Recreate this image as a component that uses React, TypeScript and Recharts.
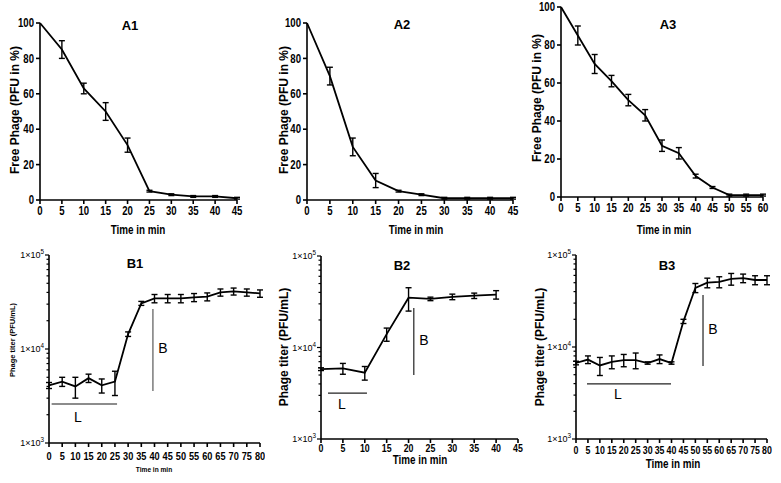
import type { ReactNode } from "react";
import { LineChart, Line, XAxis, YAxis, ErrorBar, ReferenceLine } from "recharts";

const SANS = "'Liberation Sans', Arial, sans-serif";
const SQUEEZE = 0.8; // no narrow font installed, so tick labels get squeezed horizontally

// A panels: free phage (%) over time
const a1Time = [0, 5, 10, 15, 20, 25, 30, 35, 40, 45];
const a1Free = [100, 85, 63, 50, 31, 5, 3, 2, 2, 1];
const a1Err = [0, 5, 3, 5, 4, 0.5, 0.5, 0.5, 0.5, 0.5];

const a2Time = [0, 5, 10, 15, 20, 25, 30, 35, 40, 45];
const a2Free = [100, 70, 30, 11, 5, 3, 1, 1, 1, 1];
const a2Err = [0, 5, 5, 4, 0.5, 0.5, 0.5, 0.5, 0.5, 0.5];

const a3Time = [0, 5, 10, 15, 20, 25, 30, 35, 40, 45, 50, 55, 60];
const a3Free = [100, 85, 70, 61, 51, 43, 27, 23, 11, 5, 1, 1, 1];
const a3Err = [0, 5, 5, 3, 3, 3, 3, 3, 1, 0.5, 0.5, 0.5, 0.5];

// B panels: phage titer (PFU/mL), log scale
const b1Time = [0, 5, 10, 15, 20, 25, 30, 35, 40, 45, 50, 55, 60, 65, 70, 75, 80];
const b1Titer = [4100, 4500, 4000, 4900, 4100, 4500, 14400, 30600, 34500, 34500, 34500, 35400, 36000, 40000, 41000, 40000, 39000];
const b1Err = [300, 500, 1000, 500, 700, 1300, 800, 1500, 3500, 3500, 3500, 3500, 3500, 3500, 3500, 3500, 3500];

const b2Time = [0, 5, 10, 15, 20, 25, 30, 35, 40];
const b2Titer = [5800, 5900, 5300, 14000, 35000, 34000, 35800, 36800, 37800];
const b2Err = [200, 800, 900, 2300, 10000, 1500, 2500, 2500, 4000];

const b3Time = [0, 5, 10, 15, 20, 25, 30, 35, 40, 45, 50, 55, 60, 65, 70, 75, 80];
const b3Titer = [6700, 7300, 6300, 6900, 7200, 7200, 6700, 7400, 6700, 19000, 44000, 50000, 51000, 55000, 56000, 53500, 53500];
const b3Err = [300, 700, 1400, 1100, 1100, 1400, 200, 800, 200, 1000, 5000, 6000, 7000, 8000, 6000, 6000, 6000];

const ticks45 = [0, 5, 10, 15, 20, 25, 30, 35, 40, 45];
const ticks60 = [0, 5, 10, 15, 20, 25, 30, 35, 40, 45, 50, 55, 60];
const ticks80 = [0, 5, 10, 15, 20, 25, 30, 35, 40, 45, 50, 55, 60, 65, 70, 75, 80];
const pctTicks = [0, 20, 40, 60, 80, 100];
const titerTicks = [
  1000, 2000, 3000, 4000, 5000, 6000, 7000, 8000, 9000,
  10000, 20000, 30000, 40000, 50000, 60000, 70000, 80000, 90000, 100000,
];

// latent (L) and burst (B) markers
const b1L = [{ x: 1, y: 2600 }, { x: 25.8, y: 2600 }];
const b1B = [{ x: 39.4, y: 3570 }, { x: 39.4, y: 26700 }];
const b2L = [{ x: 1.6, y: 3180 }, { x: 10.5, y: 3180 }];
const b2B = [{ x: 21.2, y: 5000 }, { x: 21.2, y: 27000 }];
const b3L = [{ x: 4.6, y: 3980 }, { x: 39.8, y: 3980 }];
const b3B = [{ x: 53.2, y: 6200 }, { x: 53.2, y: 36700 }];

type Row = { t: number; v: number; e: number };

function rows(t: number[], v: number[], e: number[]): Row[] {
  return t.map((x, i) => ({ t: x, v: v[i], e: e[i] }));
}

function XTick(props: any) {
  const { x, y, payload, fs } = props;
  return (
    <text
      transform={`translate(${x},${y}) scale(${SQUEEZE},1)`}
      textAnchor="middle"
      dy={fs * 0.75}
      fontSize={fs}
      fontWeight={700}
      fontFamily={SANS}
      fill="#000"
    >
      {payload.value}
    </text>
  );
}

function PctTick(props: any) {
  const { x, y, payload } = props;
  return (
    <text
      transform={`translate(${x},${y}) scale(${SQUEEZE},1)`}
      textAnchor="end"
      dy={4.2}
      fontSize={12}
      fontWeight={700}
      fontFamily={SANS}
      fill="#000"
    >
      {payload.value}
    </text>
  );
}

function LogTick(props: any) {
  const { x, y, payload, fs } = props;
  const v = payload.value;
  const exp = Math.round(Math.log10(v));
  const major = Math.abs(v - Math.pow(10, exp)) < 1e-6;
  return (
    <g>
      <line x1={x} x2={x - (major ? 4 : 2.5)} y1={y} y2={y} stroke="#000" strokeWidth={1.2} />
      {major && (
        <text x={x - 5} y={y + fs * 0.35} textAnchor="end" fontSize={fs} fontFamily={SANS} fill="#000">
          1×10<tspan dy={-fs * 0.45} fontSize={fs * 0.7}>{exp}</tspan>
        </text>
      )}
    </g>
  );
}

type PanelProps = {
  left: number;
  top: number;
  width: number;
  height: number;
  plot: [number, number, number, number]; // page coords x0, x1, y0, y1
  data: Row[];
  xTicks: number[];
  xFont: number;
  xGap?: number;
  log?: boolean;
  yFont?: number;
  children?: ReactNode;
};

function Panel({ left, top, width, height, plot, data, xTicks, xFont, xGap = 2, log, yFont = 9, children }: PanelProps) {
  const [x0, x1, y0, y1] = plot;
  const xMax = xTicks[xTicks.length - 1];
  const axisStroke = { stroke: "#000", strokeWidth: 1.6 };
  return (
    <div style={{ position: "absolute", left, top }}>
      <LineChart
        width={width}
        height={height}
        data={data}
        margin={{ top: y0 - top, right: left + width - x1, bottom: 0, left: 0 }}
      >
        <XAxis
          dataKey="t"
          type="number"
          domain={[0, xMax]}
          ticks={xTicks}
          interval={0}
          height={top + height - y1}
          axisLine={axisStroke}
          tickLine={axisStroke}
          tickSize={4}
          tickMargin={xGap}
          tick={<XTick fs={xFont} />}
        />
        {log ? (
          <YAxis
            type="number"
            scale="log"
            domain={[1000, 100000]}
            allowDataOverflow
            ticks={titerTicks}
            interval={0}
            width={x0 - left}
            axisLine={axisStroke}
            tickLine={false}
            tickSize={0}
            tickMargin={0}
            tick={<LogTick fs={yFont} />}
          />
        ) : (
          <YAxis
            type="number"
            domain={[0, 100]}
            ticks={pctTicks}
            interval={0}
            width={x0 - left}
            axisLine={axisStroke}
            tickLine={axisStroke}
            tickSize={4}
            tickMargin={2}
            tick={<PctTick />}
          />
        )}
        {children}
        <Line dataKey="v" stroke="#000" strokeWidth={1.8} dot={false} isAnimationActive={false}>
          <ErrorBar dataKey="e" direction="y" width={3} stroke="#000" strokeWidth={1.4} />
        </Line>
      </LineChart>
    </div>
  );
}

function Txt({ x, y, size, bold = true, squeeze = 1, rotate = false, children }: any) {
  return (
    <div
      style={{
        position: "absolute",
        left: x,
        top: y,
        transform: `translate(-50%, -50%)${rotate ? " rotate(-90deg)" : ""} scaleX(${squeeze})`,
        fontFamily: SANS,
        fontSize: size,
        fontWeight: bold ? 700 : 400,
        whiteSpace: "nowrap",
        lineHeight: 1,
        color: "#000",
      }}
    >
      {children}
    </div>
  );
}

export default function App() {
  return (
    <div style={{ position: "absolute", left: 0, top: 0, width: 781, height: 483, background: "#fff", overflow: "hidden" }}>
      <Panel left={0} top={0} width={250} height={240} plot={[40, 237, 23, 200]} data={rows(a1Time, a1Free, a1Err)} xTicks={ticks45} xFont={12} />
      <Panel left={255} top={0} width={270} height={240} plot={[307, 513, 23, 200]} data={rows(a2Time, a2Free, a2Err)} xTicks={ticks45} xFont={12} />
      <Panel left={515} top={0} width={266} height={240} plot={[561, 763, 7, 197]} data={rows(a3Time, a3Free, a3Err)} xTicks={ticks60} xFont={12} />

      <Panel left={0} top={240} width={265} height={243} plot={[49, 260, 255, 443]} data={rows(b1Time, b1Titer, b1Err)} xTicks={ticks80} xFont={11.5} xGap={4} log>
        <ReferenceLine segment={b1L} stroke="#666" strokeWidth={1.3} />
        <ReferenceLine segment={b1B} stroke="#666" strokeWidth={1.3} />
      </Panel>
      <Panel left={255} top={240} width={270} height={243} plot={[321, 518, 256, 439]} data={rows(b2Time, b2Titer, b2Err)} xTicks={ticks45} xFont={11} xGap={1} log>
        <ReferenceLine segment={b2L} stroke="#222" strokeWidth={1.2} />
        <ReferenceLine segment={b2B} stroke="#222" strokeWidth={1.2} />
      </Panel>
      <Panel left={515} top={240} width={266} height={243} plot={[576, 767, 255, 439]} data={rows(b3Time, b3Titer, b3Err)} xTicks={ticks80} xFont={11} xGap={3} log>
        <ReferenceLine segment={b3L} stroke="#222" strokeWidth={1.2} />
        <ReferenceLine segment={b3B} stroke="#222" strokeWidth={1.2} />
      </Panel>

      {/* panel titles */}
      <Txt x={130} y={25} size={13}>A1</Txt>
      <Txt x={402} y={24} size={13}>A2</Txt>
      <Txt x={668} y={24} size={13}>A3</Txt>
      <Txt x={135} y={263} size={13}>B1</Txt>
      <Txt x={402} y={265} size={13}>B2</Txt>
      <Txt x={667} y={265} size={13}>B3</Txt>

      {/* axis titles */}
      <Txt x={15} y={110} size={12} rotate>Free Phage (PFU in %)</Txt>
      <Txt x={284} y={110} size={12} rotate>Free Phage (PFU in %)</Txt>
      <Txt x={537} y={98} size={12} rotate>Free Phage (PFU in %)</Txt>
      <Txt x={13} y={340} size={7.5} rotate>Phage titer (PFU/mL)</Txt>
      <Txt x={284} y={347} size={12} rotate>Phage titer (PFU/mL)</Txt>
      <Txt x={540} y={347} size={12} rotate>Phage titer (PFU/mL)</Txt>

      <Txt x={138} y={230} size={12} squeeze={0.82}>Time in min</Txt>
      <Txt x={416} y={230} size={12} squeeze={0.82}>Time in min</Txt>
      <Txt x={664} y={230} size={12} squeeze={0.82}>Time in min</Txt>
      <Txt x={154} y={470} size={8} squeeze={0.82}>Time in min</Txt>
      <Txt x={420} y={460} size={12} squeeze={0.82}>Time in min</Txt>
      <Txt x={673} y={464} size={12} squeeze={0.82}>Time in min</Txt>

      {/* latent / burst letters */}
      <Txt x={78} y={417} size={14} bold={false}>L</Txt>
      <Txt x={163} y={348} size={14} bold={false}>B</Txt>
      <Txt x={342} y={404} size={14} bold={false}>L</Txt>
      <Txt x={424} y={340} size={14} bold={false}>B</Txt>
      <Txt x={618} y={394} size={14} bold={false}>L</Txt>
      <Txt x={713} y={329} size={14} bold={false}>B</Txt>
    </div>
  );
}
